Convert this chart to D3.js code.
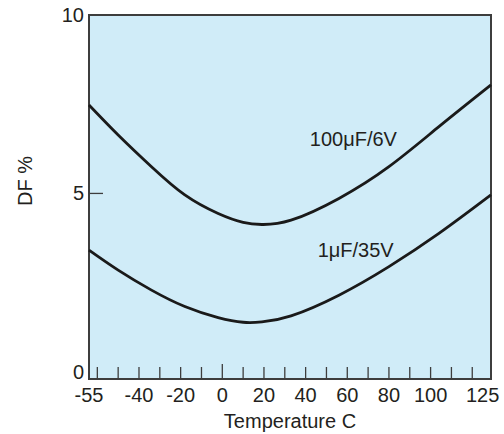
<!DOCTYPE html>
<html>
<head>
<meta charset="utf-8">
<script src="https://cdn.jsdelivr.net/npm/d3@7"></script>
<style>
  body { margin: 0; background: #ffffff; }
  text { font-family: "Liberation Sans", Arial, sans-serif; fill: #231f20; }
</style>
</head>
<body>
<div id="chart"></div>
<script>

// Curve samples (temperature in C, DF in %):

var temps = [-64, -50, -34, -18, -2, 10, 19, 33, 56, 80, 104, 129];

var df100uF = [7.48, 6.64, 5.75, 4.96, 4.44, 4.19, 4.13, 4.25, 4.86, 5.75, 6.87, 8.04];
var df1uF   = [3.41, 2.85, 2.29, 1.83, 1.52, 1.39, 1.40, 1.57, 2.15, 2.95, 3.88, 4.96];

var seriesNames = ["100\u03bcF/6V", "1\u03bcF/35V"];

var xTickLabels = [-55, -40, -20, 0, 20, 40, 60, 80, 100, 125];
var yTickLabels = [0, 5, 10];

var margin = { top: 15, right: 13, bottom: 55, left: 89 },
    width = 504 - margin.left - margin.right,
    height = 434 - margin.top - margin.bottom;

var xScale = d3.scaleLinear()
    .domain([-64, 129])
    .range([0, width]);

var yScale = d3.scaleLinear()
    .domain([-0.2, 10])
    .range([height, 0]);

var svg = d3.select("#chart").append("svg")
    .attr("width", width + margin.left + margin.right)
    .attr("height", height + margin.top + margin.bottom)
  .append("g")
    .attr("transform", "translate(" + margin.left + "," + margin.top + ")");

// Light blue plot area with a dark frame:

svg.append("rect")
    .attr("x", 0)
    .attr("y", 0)
    .attr("width", width)
    .attr("height", height)
    .attr("fill", "#d0ecf8")
    .attr("stroke", "#3d3d3d")
    .attr("stroke-width", 2);

// Tick marks every 10 degrees, pointing up into the plot (the zero one is a bit longer):

svg.append("g")
    .attr("class", "x-ticks")
  .selectAll("line")
    .data(d3.range(-60, 121, 10))
  .enter().append("line")
    .attr("x1", function(d) { return xScale(d); })
    .attr("x2", function(d) { return xScale(d); })
    .attr("y1", height)
    .attr("y2", function(d) { return d === 0 ? height - 15 : height - 12; })
    .attr("stroke", "#3d3d3d")
    .attr("stroke-width", 1.3);

// The "-55" label sits at the left end of the axis, the rest under their value:

svg.append("g")
    .attr("class", "x-labels")
  .selectAll("text")
    .data(xTickLabels)
  .enter().append("text")
    .attr("x", function(d, i) { return i === 0 ? xScale(xScale.domain()[0]) : xScale(d); })
    .attr("y", height + 22.5)
    .attr("text-anchor", "middle")
    .style("font-size", "20px")
    .text(function(d) { return d; });

svg.append("line")
    .attr("x1", 0)
    .attr("x2", 14)
    .attr("y1", yScale(5))
    .attr("y2", yScale(5))
    .attr("stroke", "#3d3d3d")
    .attr("stroke-width", 1.3);

svg.append("g")
    .attr("class", "y-labels")
  .selectAll("text")
    .data(yTickLabels)
  .enter().append("text")
    .attr("x", -5)
    .attr("y", function(d) { return yScale(d); })
    .attr("dy", "0.35em")
    .attr("text-anchor", "end")
    .style("font-size", "20px")
    .text(function(d) { return d; });

// Axis titles:

svg.append("text")
    .attr("x", width / 2)
    .attr("y", height + 49)
    .attr("text-anchor", "middle")
    .style("font-size", "20px")
    .text("Temperature C");

svg.append("text")
    .attr("transform", "translate(" + (25 - margin.left + 7) + "," + (181 - margin.top) + ") rotate(-90)")
    .attr("text-anchor", "middle")
    .style("font-size", "20px")
    .text("DF %");

// The two DF curves, smoothed with a natural spline:

var line = d3.line()
    .x(function(d) { return xScale(d[0]); })
    .y(function(d) { return yScale(d[1]); })
    .curve(d3.curveNatural);

[df100uF, df1uF].forEach(function(values) {
  svg.append("path")
      .datum(d3.zip(temps, values))
      .attr("fill", "none")
      .attr("stroke", "#1a1a1a")
      .attr("stroke-width", 2.8)
      .attr("d", line);
});

// Curve labels, placed in data units above each curve:

svg.append("text")
    .attr("x", xScale(42))
    .attr("y", yScale(6.33))
    .style("font-size", "20px")
    .text(seriesNames[0]);

svg.append("text")
    .attr("x", xScale(45.8))
    .attr("y", yScale(3.22))
    .style("font-size", "20px")
    .text(seriesNames[1]);

</script>
</body>
</html>
